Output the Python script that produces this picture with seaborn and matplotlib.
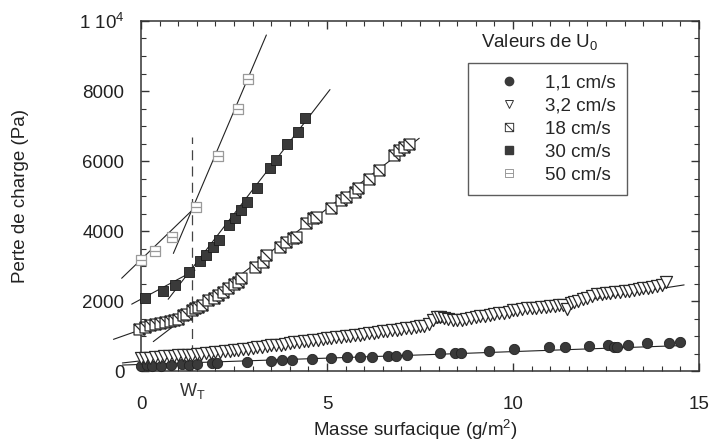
import numpy as np
import matplotlib
matplotlib.use("Agg")
from matplotlib import pyplot as plt
from matplotlib.path import Path
from matplotlib.lines import Line2D
from matplotlib.ticker import MultipleLocator
import seaborn as sns

# ---- data: x = masse surfacique (g/m2), y = perte de charge (Pa)
x_11 = [0.00, 0.15, 0.30, 0.55, 0.80, 1.10, 1.30, 1.50, 1.90, 2.05, 2.85, 3.50, 3.80, 4.05,
        4.60, 5.12, 5.55, 5.90, 6.20, 6.65, 6.85, 7.15, 8.05, 8.45, 8.60, 9.35, 10.03,
        10.97, 11.40, 12.05, 12.55, 12.72, 12.80, 13.10, 13.60, 14.20, 14.50]
y_11 = [150, 160, 150, 155, 170, 190, 185, 195, 215, 220, 265, 285, 310, 315,
        340, 380, 390, 410, 410, 430, 430, 455, 505, 520, 525, 580, 620,
        675, 695, 715, 740, 700, 690, 745, 790, 810, 835]

x_32 = [0.00, 0.12, 0.25, 0.38, 0.50, 0.62, 0.75, 0.88, 1.00, 1.12, 1.25, 1.38, 1.50, 1.62,
        1.75, 1.88, 2.00, 2.12, 2.25, 2.38, 2.50, 2.62, 2.75, 2.88, 3.00, 3.12, 3.25, 3.38,
        3.50, 3.62, 3.75, 3.88, 4.00, 4.12, 4.25, 4.38, 4.50, 4.62, 4.75, 4.88, 5.00, 5.12,
        5.25, 5.38, 5.50, 5.62, 5.75, 5.88, 6.00, 6.12, 6.25, 6.38, 6.50, 6.62, 6.75, 6.88,
        7.00, 7.12, 7.25, 7.38, 7.50, 7.62, 7.75, 7.85, 7.95, 8.05, 8.15, 8.25, 8.38, 8.50,
        8.62, 8.75, 8.88, 9.00, 9.12, 9.25, 9.38, 9.50, 9.62, 9.75, 9.88, 10.00, 10.12, 10.25,
        10.38, 10.50, 10.62, 10.75, 10.88, 11.00, 11.12, 11.25, 11.35, 11.45, 11.55, 11.65,
        11.75, 11.88, 12.00, 12.12, 12.25, 12.38, 12.50, 12.62, 12.75, 12.88, 13.00, 13.12,
        13.25, 13.38, 13.50, 13.62, 13.75, 13.88, 14.00, 14.12]
y_32 = [370, 385, 380, 400, 405, 420, 430, 425, 450, 455, 470, 465, 490, 495,
        505, 520, 530, 550, 560, 585, 600, 610, 625, 640, 655, 680, 690, 705,
        730, 740, 755, 770, 790, 815, 838, 850, 860, 875, 885, 910, 930, 943,
        960, 975, 990, 1000, 1015, 1040, 1060, 1075, 1090, 1105, 1130, 1140, 1165, 1180,
        1200, 1215, 1240, 1260, 1280, 1300, 1340, 1460, 1540, 1550, 1510, 1480, 1465, 1450,
        1470, 1490, 1510, 1540, 1560, 1580, 1600, 1630, 1650, 1670, 1700, 1730, 1745, 1760,
        1790, 1800, 1810, 1830, 1840, 1850, 1870, 1880, 1900, 1760, 1930, 1960,
        2000, 2050, 2100, 2150, 2190, 2200, 2220, 2240, 2250, 2270, 2290, 2300,
        2320, 2340, 2360, 2380, 2400, 2430, 2450, 2540]

x_18 = [-0.05, 0.12, 0.24, 0.38, 0.51, 0.65, 0.78, 0.90, 1.00, 1.13, 1.20, 1.36, 1.45,
        1.54, 1.65, 1.80, 1.95, 2.07, 2.20, 2.34, 2.50, 2.61, 2.70, 3.06, 3.28, 3.37,
        3.73, 3.91, 4.08, 4.17, 4.44, 4.62, 4.71, 5.11, 5.38, 5.51, 5.74, 5.83, 6.14,
        6.41, 6.81, 6.94, 7.08, 7.21]
y_18 = [1200, 1260, 1310, 1340, 1380, 1410, 1440, 1470, 1500, 1600, 1630, 1740, 1790,
        1840, 1900, 2030, 2100, 2170, 2260, 2360, 2480, 2550, 2650, 2980, 3120, 3310,
        3550, 3690, 3790, 3840, 4220, 4360, 4400, 4650, 4890, 4980, 5120, 5220, 5500,
        5740, 6170, 6310, 6410, 6500]

x_30 = [0.12, 0.59, 0.91, 1.29, 1.58, 1.74, 1.93, 2.09, 2.36, 2.52, 2.68, 2.86, 3.12,
        3.48, 3.64, 3.92, 4.22, 4.42]
y_30 = [2090, 2290, 2460, 2830, 3140, 3310, 3540, 3740, 4160, 4370, 4610, 4840, 5230,
        5800, 6040, 6500, 6840, 7220]

x_50 = [0.00, 0.38, 0.83, 1.47, 2.06, 2.60, 2.87]
y_50 = [3170, 3430, 3830, 4690, 6140, 7490, 8340]

# fitted straight lines (end points)
fit_11_x, fit_11_y = [-0.5, 7.0, 14.6], [170, 440, 730]
fit_32_x, fit_32_y = [-0.5, 5.0, 10.0, 14.6], [230, 900, 1700, 2460]
fit_18a_x, fit_18a_y = [-0.74, 1.25], [905, 1650]
fit_18b_x, fit_18b_y = [0.33, 7.48], [840, 6650]
fit_30a_x, fit_30a_y = [-0.25, 1.45], [1910, 2880]
fit_30b_x, fit_30b_y = [0.73, 5.08], [2050, 8040]
fit_50a_x, fit_50a_y = [-0.52, 1.47], [2650, 4690]
fit_50b_x, fit_50b_y = [0.87, 3.37], [3360, 9600]

w_t = 1.37
labels = ["1,1 cm/s", "3,2 cm/s", "18 cm/s", "30 cm/s", "50 cm/s"]

# ---- style
sns.set_style("ticks")
plt.rcParams["font.family"] = ["Liberation Sans", "DejaVu Sans"]
plt.rcParams["mathtext.default"] = "regular"

# custom markers
sq_diag = Path([(-1, 1), (1, 1), (1, -1), (-1, -1), (-1, 1), (-1, 1), (1, -1)],
               [Path.MOVETO, Path.LINETO, Path.LINETO, Path.LINETO, Path.CLOSEPOLY,
                Path.MOVETO, Path.LINETO])
sq_mid = Path([(-1, -1), (1, -1), (1, 1), (-1, 1), (-1, -1), (-1, 0), (1, 0)],
              [Path.MOVETO, Path.LINETO, Path.LINETO, Path.LINETO, Path.CLOSEPOLY,
               Path.MOVETO, Path.LINETO])

fig, ax = plt.subplots(figsize=(7.1, 4.43), dpi=100)
fig.subplots_adjust(left=0.1986, right=0.9845, bottom=0.1625, top=0.9526)

# fit lines
line_kw = dict(color="#222222", linewidth=0.8, clip_on=False, sort=False, estimator=None, ax=ax)
for fx, fy in [(fit_11_x, fit_11_y), (fit_32_x, fit_32_y), (fit_18a_x, fit_18a_y),
               (fit_18b_x, fit_18b_y), (fit_30a_x, fit_30a_y), (fit_30b_x, fit_30b_y),
               (fit_50a_x, fit_50a_y), (fit_50b_x, fit_50b_y)]:
    sns.lineplot(x=fx, y=fy, **line_kw)

# measurements
sns.scatterplot(x=x_11, y=y_11, marker="o", s=55, color="#3a3a3a", edgecolor="#222222",
                linewidth=0.6, ax=ax, zorder=3, clip_on=False)
sns.scatterplot(x=x_32, y=y_32, marker="v", s=75, facecolor="white", edgecolor="#2a2a2a",
                linewidth=0.9, ax=ax, zorder=3, clip_on=False)
sns.scatterplot(x=x_18, y=y_18, marker=sq_diag, s=62, facecolor="white", edgecolor="#2a2a2a",
                linewidth=0.9, ax=ax, zorder=3, clip_on=False)
sns.scatterplot(x=x_30, y=y_30, marker="s", s=62, color="#3a3a3a", edgecolor="#1a1a1a",
                linewidth=0.6, ax=ax, zorder=3, clip_on=False)
sns.scatterplot(x=x_50, y=y_50, marker=sq_mid, s=62, facecolor="white", edgecolor="#9a9a9a",
                linewidth=0.9, ax=ax, zorder=3, clip_on=False)

# W_T marker
ax.vlines(w_t, 0, 6700, colors="#444444", linewidth=0.9, linestyles=(0, (8, 5)))
ax.text(w_t + 0.02, -560, "W$_{T}$", ha="center", va="center", fontsize=13, color="#333333")

# axes
ax.set_xlim(0, 15)
ax.set_ylim(0, 10000)
ax.xaxis.set_major_locator(MultipleLocator(5))
ax.xaxis.set_minor_locator(MultipleLocator(0.5))
ax.yaxis.set_major_locator(MultipleLocator(2000))
ax.yaxis.set_minor_locator(MultipleLocator(500))
ax.set_yticks([0, 2000, 4000, 6000, 8000, 10000])
ax.set_yticklabels(["0", "2000", "4000", "6000", "8000", "1 10$^{4}$"])
ax.tick_params(which="both", direction="in", top=True, right=True, colors="#333333",
               labelcolor="#222222")
ax.tick_params(which="major", length=6, width=1.0, labelsize=13.5)
ax.tick_params(which="minor", length=3.5, width=0.8)
ax.tick_params(axis="x", which="major", pad=18)
ax.tick_params(axis="y", which="major", pad=12)
for sp in ax.spines.values():
    sp.set_linewidth(1.1)
    sp.set_color("#333333")

ax.set_xlabel("Masse surfacique (g/m$^{2}$)", fontsize=13.5, color="#222222")
ax.set_ylabel("Perte de charge (Pa)", fontsize=13.5, color="#222222")
ax.xaxis.set_label_coords(0.491, -0.135)
ax.yaxis.set_label_coords(-0.20, 0.5)

# legend
handles = [
    Line2D([], [], linestyle="", marker="o", markersize=6, color="#3a3a3a"),
    Line2D([], [], linestyle="", marker="v", markersize=6, markerfacecolor="white",
           markeredgecolor="#333333", markeredgewidth=0.7),
    Line2D([], [], linestyle="", marker=sq_diag, markersize=6, markerfacecolor="white",
           markeredgecolor="#333333", markeredgewidth=0.7),
    Line2D([], [], linestyle="", marker="s", markersize=6, color="#3a3a3a"),
    Line2D([], [], linestyle="", marker=sq_mid, markersize=6, markerfacecolor="white",
           markeredgecolor="#9a9a9a", markeredgewidth=0.7),
]
leg = ax.legend(handles, labels, loc="upper left", bbox_to_anchor=(0.586, 0.88),
                fontsize=13.5, frameon=True, fancybox=False, borderpad=0.6,
                handlelength=3.2, handletextpad=0.3, labelspacing=0.32, borderaxespad=0)
leg.get_frame().set_edgecolor("#333333")
leg.get_frame().set_linewidth(1.0)
ax.text(0.715, 0.94, "Valeurs de U$_{0}$", transform=ax.transAxes, ha="center",
        va="center", fontsize=13.5, color="#222222")

fig.savefig("out.png", dpi=100)
